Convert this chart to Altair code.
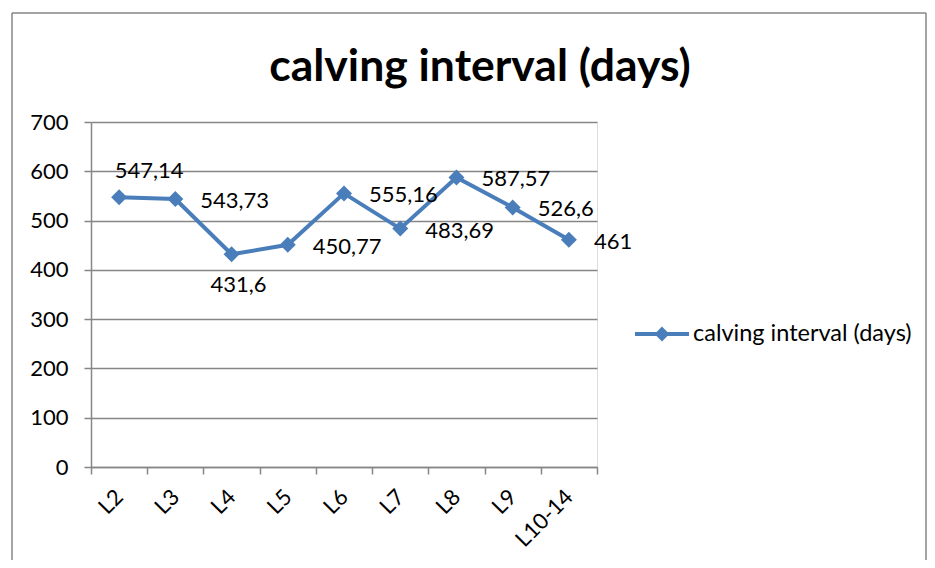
import altair as alt
import pandas as pd

categories = ["L2", "L3", "L4", "L5", "L6", "L7", "L8", "L9", "L10-14"]
values = [547.14, 543.73, 431.6, 450.77, 555.16, 483.69, 587.57, 526.6, 461]
series_name = "calving interval (days)"
y_ticks = [0, 100, 200, 300, 400, 500, 600, 700]

df = pd.DataFrame({"cat": categories, "value": values, "series": series_name})
frame_df = pd.DataFrame({"k": [0]})

BLUE = "#4A7EBB"
GRAY = "#868686"
FONT = "Lato"

legend_symbol = "M-1,0L1,0M0,-0.17L0.17,0L0,0.17L-0.17,0Z"

base = alt.Chart(df).transform_calculate(
    label="replace(toString(datum.value), '.', ',')"
).encode(
    x=alt.X(
        "cat:N",
        sort=categories,
        scale=alt.Scale(type="band", paddingInner=0, paddingOuter=0),
        axis=alt.Axis(
            title=None, labelAngle=-45, labelAlign="right", labelBaseline="middle",
            tickBand="extent", tickSize=7, labelPadding=19, grid=False,
            domainColor=GRAY, tickColor=GRAY, domainWidth=1.5, tickWidth=1.5,
            labelFont=FONT, labelFontSize=22, labelColor="black",
        ),
    ),
    y=alt.Y(
        "value:Q",
        scale=alt.Scale(domain=[0, 700]),
        axis=alt.Axis(
            title=None, values=y_ticks, grid=True, gridColor=GRAY, gridWidth=1.3,
            tickSize=7, labelPadding=16, domainColor=GRAY, tickColor=GRAY,
            domainWidth=1.5, tickWidth=1.5,
            labelFont=FONT, labelFontSize=22, labelColor="black",
        ),
    ),
)

legend = alt.Legend(
    title=None, orient="none", legendX=542, legendY=183, padding=0,
    symbolType=legend_symbol, symbolSize=2916, symbolStrokeWidth=4,
    symbolFillColor=BLUE, symbolStrokeColor=BLUE,
    labelFont=FONT, labelFontSize=23.5, labelColor="black", labelOffset=2, labelLimit=400,
)

color = alt.Color("series:N", scale=alt.Scale(range=[BLUE]), legend=legend)

line = base.mark_line(strokeWidth=4).encode(color=color)
points = base.mark_point(shape="diamond", size=256, filled=True, opacity=1).encode(color=color)

txt_style = dict(font=FONT, fontSize=22, color="black")
labels_right = base.mark_text(align="left", baseline="middle", dx=25, dy=2, **txt_style).encode(
    text="label:N"
).transform_filter(alt.FieldOneOfPredicate(field="cat", oneOf=["L3", "L5", "L6", "L7", "L8", "L9", "L10-14"]))
labels_above = base.mark_text(align="center", baseline="middle", dx=30, dy=-26, **txt_style).encode(
    text="label:N"
).transform_filter(alt.FieldEqualPredicate(field="cat", equal="L2"))
labels_below = base.mark_text(align="center", baseline="middle", dx=7, dy=31, **txt_style).encode(
    text="label:N"
).transform_filter(alt.FieldEqualPredicate(field="cat", equal="L4"))

fr = alt.Chart(frame_df)
frame_left = fr.mark_rule(color=GRAY, strokeWidth=1.5).encode(
    x=alt.value(-79), y=alt.value(-109), y2=alt.value(438))
frame_right = fr.mark_rule(color=GRAY, strokeWidth=1.5).encode(
    x=alt.value(835), y=alt.value(-109), y2=alt.value(438))
frame_top = fr.mark_rule(color=GRAY, strokeWidth=1.5).encode(
    x=alt.value(-79), x2=alt.value(835), y=alt.value(-109))

chart = alt.layer(
    frame_left, frame_right, frame_top,
    line, points, labels_right, labels_above, labels_below,
).properties(
    width=506,
    height=345,
    title=alt.TitleParams(
        series_name, font=FONT, fontSize=44.5, fontWeight="bold", color="black",
        anchor="middle", frame="group", dx=136, baseline="alphabetic", offset=-113,
    ),
    autosize=alt.AutoSizeParams(type="none"),
    padding={"left": 83, "top": 114, "right": 330, "bottom": 93},
).configure_view(stroke=None).configure(background="white")

chart.save("out.html", embed_options={"renderer": "svg", "actions": False})
